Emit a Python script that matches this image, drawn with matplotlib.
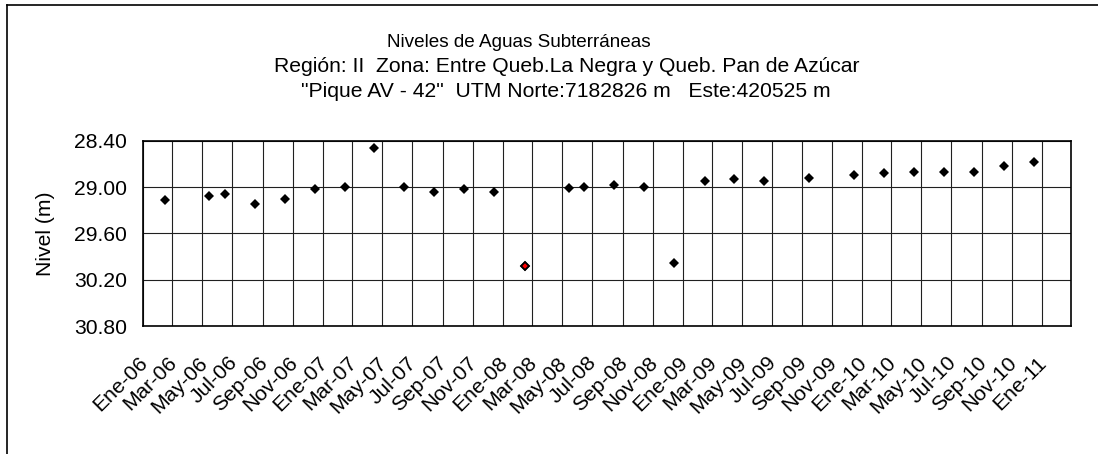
import matplotlib
matplotlib.use("Agg")
import matplotlib.pyplot as plt
import matplotlib.transforms as mtransforms
from matplotlib import font_manager
from matplotlib.lines import Line2D
import pandas as pd

plt.rcParams['font.family'] = ['Liberation Sans', 'DejaVu Sans']

# ---- data ----
dates = ["2006-02-15", "2006-05-15", "2006-06-15", "2006-08-15", "2006-10-15",
         "2006-12-15", "2007-02-15", "2007-04-15", "2007-06-15", "2007-08-15",
         "2007-10-15", "2007-12-15", "2008-02-15", "2008-05-15", "2008-06-15",
         "2008-08-15", "2008-10-15", "2008-12-15", "2009-02-15", "2009-04-15",
         "2009-06-15", "2009-09-15", "2009-12-15", "2010-02-15", "2010-04-15",
         "2010-06-15", "2010-08-15", "2010-10-15", "2010-12-15"]
levels = [29.17, 29.12, 29.09, 29.22, 29.15,
          29.03, 29.00, 28.50, 29.00, 29.06,
          29.03, 29.07, 30.02, 29.01, 29.00,
          28.97, 29.00, 29.98, 28.92, 28.90,
          28.92, 28.88, 28.84, 28.82, 28.80,
          28.80, 28.81, 28.73, 28.68]
highlight_date = "2008-02-15"   # point drawn with red centre

tick_labels = ["Ene-06", "Mar-06", "May-06", "Jul-06", "Sep-06", "Nov-06",
               "Ene-07", "Mar-07", "May-07", "Jul-07", "Sep-07", "Nov-07",
               "Ene-08", "Mar-08", "May-08", "Jul-08", "Sep-08", "Nov-08",
               "Ene-09", "Mar-09", "May-09", "Jul-09", "Sep-09", "Nov-09",
               "Ene-10", "Mar-10", "May-10", "Jul-10", "Sep-10", "Nov-10",
               "Ene-11"]
y_ticks = [28.40, 29.00, 29.60, 30.20, 30.80]

title_lines = ["Niveles de Aguas Subterráneas",
               "Región: II  Zona: Entre Queb.La Negra y Queb. Pan de Azúcar",
               "\"Pique AV - 42\"  UTM Norte:7182826 m   Este:420525 m"]

# ---- figure ----
W, H = 1098, 454
FS = 15.2
fig = plt.figure(figsize=(W / 100, H / 100), dpi=100)
ax = fig.add_axes([143.3 / W, 1 - 326 / H, (1071 - 143.3) / W, (326 - 140.7) / H])

x = pd.to_datetime(dates)
ax.plot(x, levels, linestyle='none', marker='D', markersize=5.2,
        color='black', markeredgewidth=0, zorder=3)
hx = pd.to_datetime([highlight_date])
hy = [levels[dates.index(highlight_date)]]
ax.plot(hx, hy, linestyle='none', marker='D', markersize=4.4,
        markerfacecolor='red', markeredgecolor='black', markeredgewidth=1.3, zorder=4)

ticks = pd.date_range("2006-01-01", periods=len(tick_labels), freq="2MS")
ax.set_xlim(pd.Timestamp("2006-01-01"), pd.Timestamp("2011-03-01"))
ax.set_xticks(ticks)
ax.set_xticklabels(tick_labels, rotation=45, ha='right', va='top',
                   rotation_mode='anchor', fontsize=FS)
ax.tick_params(axis='x', length=0, pad=19.5)
shift = mtransforms.ScaledTranslation(-5 / 100, 0, fig.dpi_scale_trans)
for lab in ax.get_xticklabels():
    lab.set_transform(lab.get_transform() + shift)

ax.set_ylim(30.80, 28.40)
ax.set_yticks(y_ticks)
ax.set_yticklabels([f"{v:.2f}" for v in y_ticks], fontsize=FS)
ax.tick_params(axis='y', length=0, pad=11.5)
ax.set_ylabel("Nivel (m)", fontsize=FS, labelpad=14)

ax.grid(True, color='#202020', linewidth=0.8)
ax.set_axisbelow(True)
for s in ax.spines.values():
    s.set_color('black')
    s.set_linewidth(1.2)

# first title line is set in a narrow face in the original
narrow_family = None
try:
    p = font_manager.findfont(font_manager.FontProperties(family='Liberation Sans Narrow'),
                              fallback_to_default=False)
    if 'Narrow' in p:
        narrow_family = 'Liberation Sans Narrow'
except Exception:
    narrow_family = None

if narrow_family:
    fig.text(519 / W, 1 - 47 / H, title_lines[0], ha='center', va='baseline',
             fontsize=FS, family=[narrow_family, 'DejaVu Sans'])
else:
    fig.text(519 / W, 1 - 47 / H, title_lines[0], ha='center', va='baseline',
             fontsize=13.6)
fig.text(567 / W, 1 - 72 / H, title_lines[1], ha='center', va='baseline', fontsize=FS)
fig.text(566 / W, 1 - 97 / H, title_lines[2], ha='center', va='baseline', fontsize=FS)

# chart-area border (top and left edges)
fig.add_artist(Line2D([7.3 / W, 1.0], [1 - 5 / H, 1 - 5 / H], color='black',
                      linewidth=1.2, transform=fig.transFigure))
fig.add_artist(Line2D([7.3 / W, 7.3 / W], [0, 1 - 5 / H], color='black',
                      linewidth=1.2, transform=fig.transFigure))

fig.savefig("out.png", dpi=100)
